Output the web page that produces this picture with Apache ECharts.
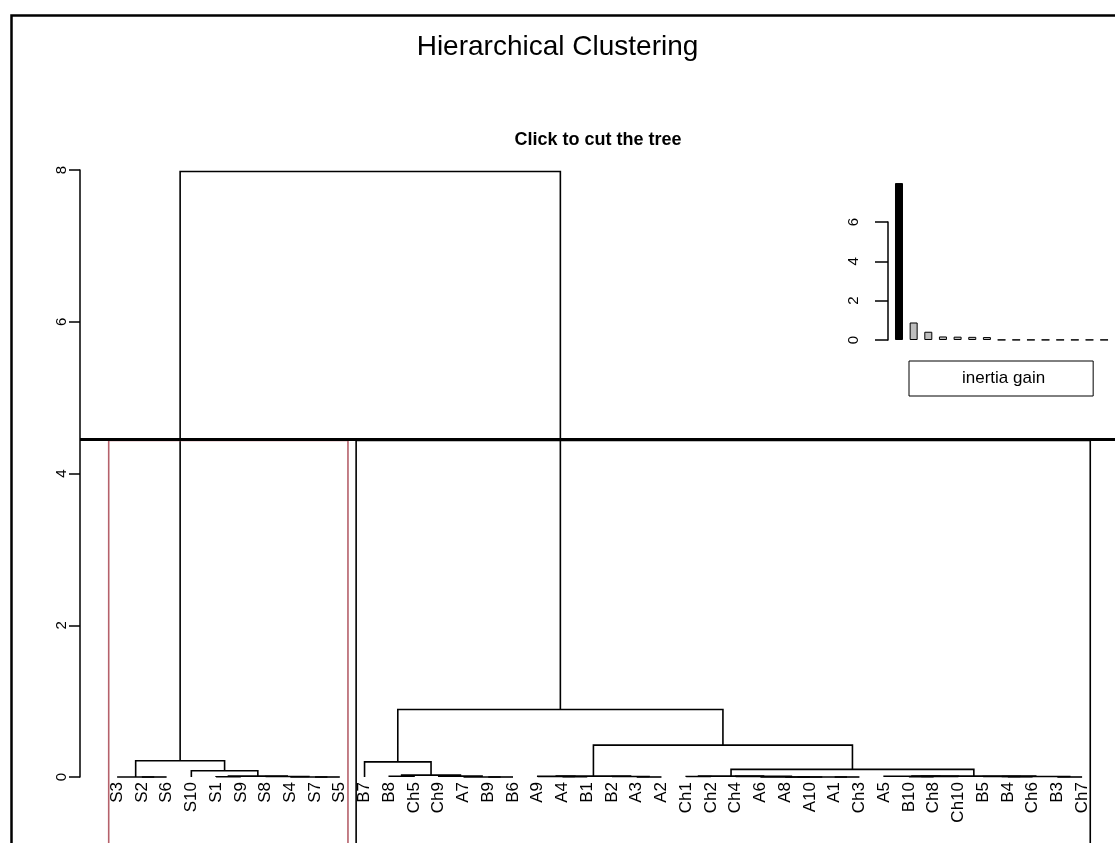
<!DOCTYPE html>
<html>
<head>
<meta charset="utf-8">
<title>Hierarchical Clustering</title>
<script src="https://cdn.jsdelivr.net/npm/echarts@6/dist/echarts.min.js"></script>
<style>
html, body { margin: 0; padding: 0; background: #fff; }
#main { width: 1115px; height: 843px; }
</style>
</head>
<body>
<div id="main"></div>
<script>
// leaves in the order they are drawn
var leaves = ['S3','S2','S6','S10','S1','S9','S8','S4','S7','S5',
              'B7','B8','Ch5','Ch9','A7','B9','B6','A9','A4','B1',
              'B2','A3','A2','Ch1','Ch2','Ch4','A6','A8','A10','A1',
              'Ch3','A5','B10','Ch8','Ch10','B5','B4','Ch6','B3','Ch7'];

// merge steps, bottom up (a leaf name, or the number of an earlier step)
var mergeLeft   = ['S2','S3','S7','S4','S8','S1',5,'S10',1,'B8',
                   'B9','A7','Ch9',9,'B7','A4','A9','A3','B2',16,
                   'Ch1','A8','A1',21,'A6','Ch4',20,'B10',27,'A5',
                   'B4','B5','B3',31,29,26,19,14,8];
var mergeRight  = ['S6',0,'S5',2,3,'S9',4,6,7,'Ch5',
                   'B6',10,11,12,13,'B1',15,'A2',17,18,
                   'Ch2','A10','Ch3',22,23,24,25,'Ch8','Ch10',28,
                   'Ch6',30,'Ch7',32,33,34,35,36,37];
var mergeHeight = [0,0,0,0,0.006,0.004,0.012,0.083,0.215,0.01,
                   0,0,0.012,0.025,0.20,0.004,0.008,0,0.006,0.012,
                   0.006,0,0,0,0,0.008,0.012,0.004,0.008,0.01,
                   0.004,0.006,0,0.006,0.012,0.10,0.42,0.89,7.98];

var yTicks = [0, 2, 4, 6, 8];
var cutHeight = 4.45;
var clusterSizes = [10, 30];
var clusterColors = ['#b5616b', '#000000'];

// inset: inertia gain of the first 15 merges from the top
var inertiaGain = [7.98, 0.89, 0.42, 0.18, 0.17, 0.16, 0.15, 0.01,
                   0.01, 0.01, 0.01, 0.01, 0.01, 0.01, 0.01];
var gainTicks = [0, 2, 4, 6];

// dendrogram layout: leaf i sits at x = i + 1, a node at the mean of its children
var nodeX = [], nodeY = [];
function pos(ref) {
    if (typeof ref === 'string') return [leaves.indexOf(ref) + 1, 0];
    return [nodeX[ref], nodeY[ref]];
}
var branchData = [];
for (var i = 0; i < mergeHeight.length; i++) {
    var l = pos(mergeLeft[i]), r = pos(mergeRight[i]), h = mergeHeight[i];
    nodeX.push((l[0] + r[0]) / 2);
    nodeY.push(h);
    branchData.push([l[0], l[1], r[0], r[1], h]);
}

// cluster rectangles (rect.hclust style)
var sortedH = mergeHeight.slice().sort(function (a, b) { return b - a; });
var rectTop = (sortedH[0] + sortedH[1]) / 2;
var rectData = [];
var start = 0;
clusterSizes.forEach(function (n, k) {
    rectData.push([start + 0.66, start + n + 0.33, rectTop, k]);
    start += n;
});

var labelData = leaves.map(function (name, i) { return [i + 1, 0, name]; });
var gainData = inertiaGain.map(function (v, i) { return [i + 1, v]; });

var fontFam = '"Liberation Sans", Arial, sans-serif';

var myChart = echarts.init(document.getElementById('main'));
var option = {
    backgroundColor: '#fff',
    animation: false,
    title: [
        {text: 'Hierarchical Clustering', left: 'center', top: 33, padding: 0,
         textStyle: {fontFamily: fontFam, fontSize: 28, fontWeight: 'normal', color: '#000'}},
        {text: 'Click to cut the tree', left: 598, textAlign: 'center', top: 131, padding: 0,
         textStyle: {fontFamily: fontFam, fontSize: 18, fontWeight: 'bold', color: '#000'}}
    ],
    legend: {
        data: [{name: 'inertia gain', icon: 'none'}],
        left: 909, top: 361,
        itemWidth: 0, itemHeight: 14,
        padding: [9, 48],
        borderColor: '#000', borderWidth: 1,
        selectedMode: false,
        textStyle: {fontFamily: fontFam, fontSize: 17, color: '#000'}
    },
    graphic: [
        {type: 'rect', left: 9, top: 13, z: 100, silent: true,
         shape: {width: 1120, height: 850},
         style: {fill: null, stroke: '#000', lineWidth: 2.5}}
    ],
    grid: [
        {left: 80, right: 0, top: 170, bottom: 66},
        {left: 888, top: 222, width: 222, height: 118}
    ],
    xAxis: [
        {type: 'value', gridIndex: 0, min: -0.5, max: 41.33, show: false},
        {type: 'value', gridIndex: 1, min: 0.25, max: 15.4, show: false}
    ],
    yAxis: [
        {type: 'value', gridIndex: 0, min: yTicks[0], max: yTicks[yTicks.length - 1], interval: 2,
         axisLine: {show: true, onZero: false, lineStyle: {color: '#000', width: 1.5}},
         axisTick: {show: true, length: 11, lineStyle: {color: '#000', width: 1.5}},
         axisLabel: {rotate: 90, margin: 11, fontFamily: fontFam, fontSize: 15, color: '#000'},
         splitLine: {show: false}},
        {type: 'value', gridIndex: 1, min: gainTicks[0], max: gainTicks[gainTicks.length - 1], interval: 2,
         axisLine: {show: true, onZero: false, lineStyle: {color: '#000', width: 1.5}},
         axisTick: {show: true, length: 13, lineStyle: {color: '#000', width: 1.5}},
         axisLabel: {rotate: 90, margin: 27, fontFamily: fontFam, fontSize: 15, color: '#000'},
         splitLine: {show: false}}
    ],
    series: [
        {
            type: 'custom', name: 'tree', xAxisIndex: 0, yAxisIndex: 0,
            clip: false, silent: true,
            data: branchData,
            encode: {x: [0, 2], y: [1, 3, 4]},
            renderItem: function (params, api) {
                var a = api.coord([api.value(0), api.value(1)]);
                var b = api.coord([api.value(0), api.value(4)]);
                var c = api.coord([api.value(2), api.value(4)]);
                var d = api.coord([api.value(2), api.value(3)]);
                return {type: 'polyline', shape: {points: [a, b, c, d]},
                        style: {stroke: '#000', lineWidth: 1.6, fill: null}};
            }
        },
        {
            type: 'custom', name: 'clusters', xAxisIndex: 0, yAxisIndex: 0,
            clip: false, silent: true,
            data: rectData,
            encode: {x: [0, 1], y: 2},
            renderItem: function (params, api) {
                var bottom = api.coord([0, -1])[1];
                var p0 = api.coord([api.value(0), api.value(2)]);
                var p1 = api.coord([api.value(1), api.value(2)]);
                return {type: 'polyline',
                        shape: {points: [[p0[0], bottom], p0, p1, [p1[0], bottom]]},
                        style: {stroke: clusterColors[api.value(3)], lineWidth: 1.6, fill: null}};
            }
        },
        {
            type: 'custom', name: 'labels', xAxisIndex: 0, yAxisIndex: 0,
            clip: false, silent: true,
            data: labelData,
            encode: {x: 0, y: 1},
            renderItem: function (params, api) {
                var p = api.coord([api.value(0), api.value(1)]);
                return {type: 'text', x: p[0], y: p[1] + 5, rotation: Math.PI / 2,
                        style: {text: labelData[params.dataIndex][2], fontFamily: fontFam, fontSize: 17,
                                fill: '#000', align: 'right', verticalAlign: 'middle'}};
            }
        },
        {
            type: 'line', name: 'cut', xAxisIndex: 0, yAxisIndex: 0,
            data: [], silent: true,
            markLine: {
                silent: true, symbol: 'none', label: {show: false},
                lineStyle: {color: '#000', width: 3, type: 'solid'},
                data: [{yAxis: cutHeight}]
            }
        },
        {
            type: 'bar', name: 'inertia gain', xAxisIndex: 1, yAxisIndex: 1,
            clip: false, barWidth: 8, silent: true,
            data: gainData,
            itemStyle: {
                borderColor: '#000', borderWidth: 1,
                color: function (p) { return p.dataIndex === 0 ? '#000' : '#bebebe'; }
            }
        }
    ]
};
myChart.setOption(option);
</script>
</body>
</html>
